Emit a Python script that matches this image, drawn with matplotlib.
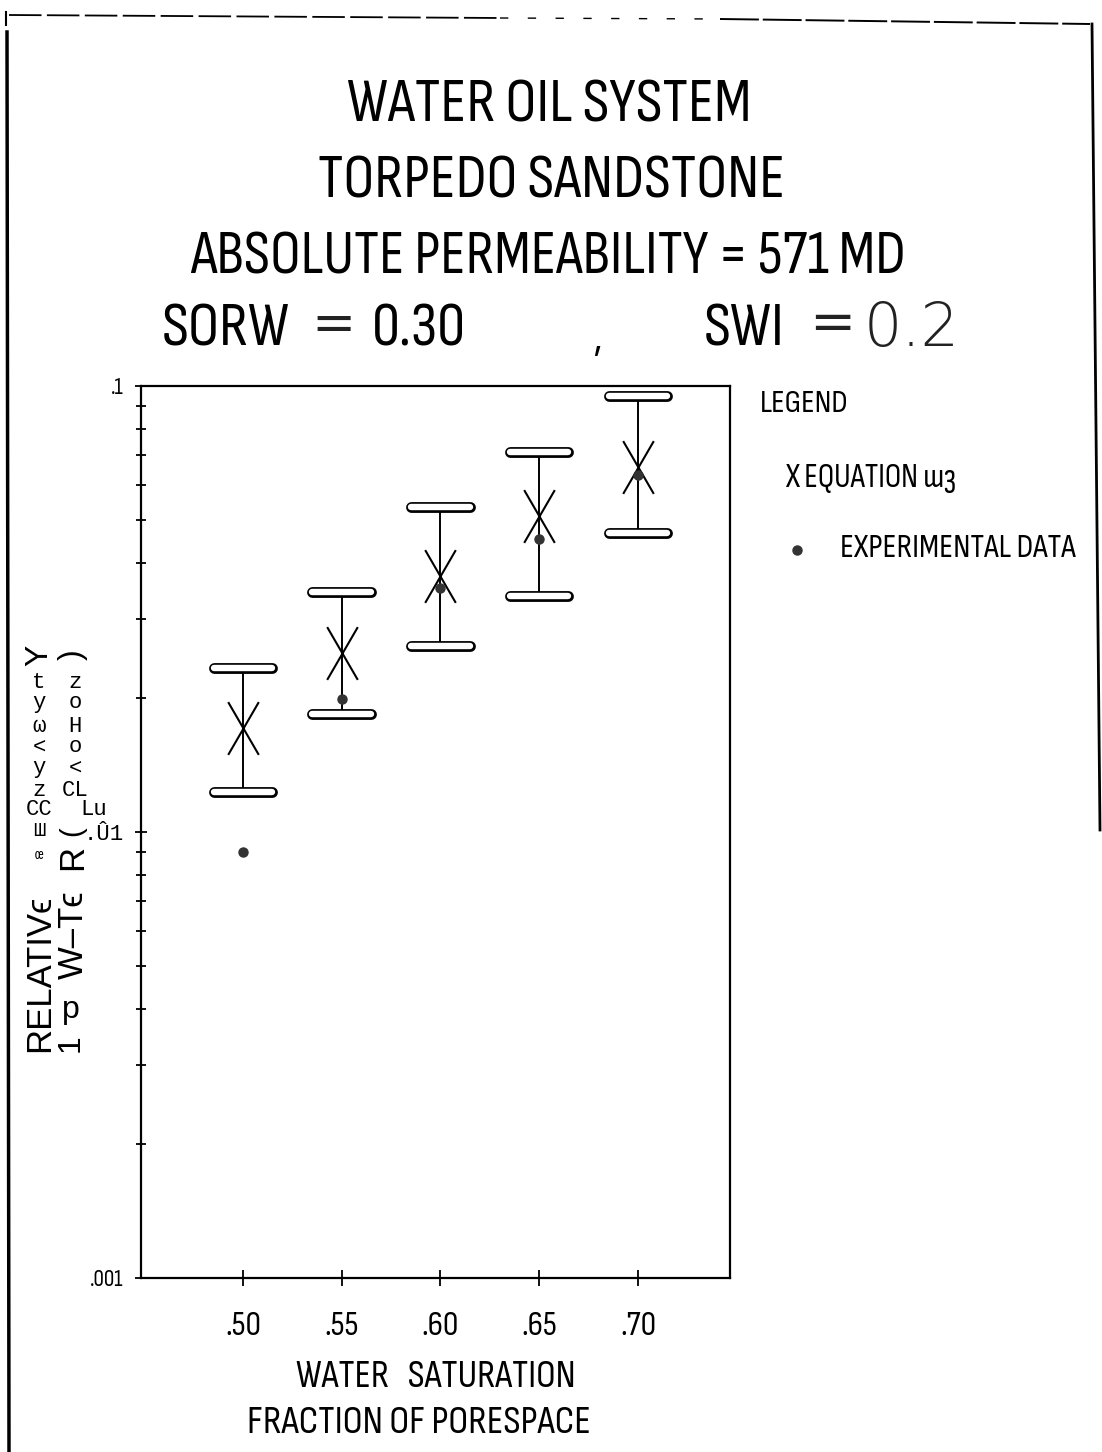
import matplotlib
matplotlib.use("Agg")
import matplotlib.pyplot as plt
from matplotlib.path import Path
from matplotlib.lines import Line2D
from matplotlib import font_manager, ticker

# ---------------- data ----------------
water_saturation = [0.50, 0.55, 0.60, 0.65, 0.70]
equation_krw = [0.0171, 0.0252, 0.0375, 0.0511, 0.0658]
experimental_krw = [0.00902, 0.0199, 0.0352, 0.0454, 0.0631]
upper_bound = [0.0233, 0.0345, 0.0535, 0.0711, 0.0950]
lower_bound = [0.0123, 0.0184, 0.0261, 0.0338, 0.0468]
x_tick_values = [0.50, 0.55, 0.60, 0.65, 0.70]
x_tick_labels = [".50", ".55", ".60", ".65", ".70"]
y_tick_values = [0.001, 0.01, 0.1]
y_tick_labels = [".001", ".\u00db1", ".1"]

title_lines = ["WATER OIL SYSTEM", "TORPEDO SANDSTONE", "ABSOLUTE PERMEABILITY = 571 MD"]

# ---------------- fonts ----------------
avail = {f.name for f in font_manager.fontManager.ttflist}
narrow = "Liberation Sans"
for cand in ["Liberation Sans Narrow", "Arial Narrow", "Sofia Sans Condensed",
             "Roboto Condensed", "PT Sans Narrow", "Archivo Narrow"]:
    if cand in avail:
        narrow = cand
        break
SANS = [narrow, "DejaVu Sans"]
PLAIN = ["Liberation Sans", "DejaVu Sans"]
MONO = ["Liberation Mono", "DejaVu Sans Mono"]
THIN = ["DejaVu Sans"]
plt.rcParams['font.family'] = SANS

W, H = 1102, 1452
fig = plt.figure(figsize=(W / 100, H / 100), dpi=100)
fig.patch.set_facecolor("white")
renderer = fig.canvas.get_renderer()


def fx(x):
    return x / W


def fy(y):
    return 1 - y / H


def fit_text(s, x0, x1, baseline, family=None, **kw):
    fam = family if family is not None else SANS
    t = fig.text(fx(x0), fy(baseline), s, fontsize=30, family=fam,
                 ha="left", va="baseline", **kw)
    w = t.get_window_extent(renderer).width
    size = 30 * (x1 - x0) / w
    t.set_fontsize(size)
    return size


def put_text(s, x0, baseline, size, family=None, **kw):
    fam = family if family is not None else SANS
    fig.text(fx(x0), fy(baseline), s, fontsize=size, family=fam,
             ha="left", va="baseline", **kw)


# axes placement
L, R, T, B = 141, 730, 386, 1278
ax = fig.add_axes([fx(L), fy(B), (R - L) / W, (B - T) / H])
ax.set_yscale("log")
ax.set_xlim(0.4484, 0.7466)
ax.set_ylim(0.001, 0.1)

# error bars: vertical line
for x, lo, hi in zip(water_saturation, lower_bound, upper_bound):
    ax.plot([x, x], [lo, hi], color="black", lw=1.4, zorder=2)
# caps drawn as capsule outlines
cap_half = 0.0148
for x, lo, hi in zip(water_saturation, lower_bound, upper_bound):
    for yv in (lo, hi):
        ax.plot([x - cap_half, x + cap_half], [yv, yv], color="black", lw=7.8,
                solid_capstyle="round", zorder=3)
        ax.plot([x - cap_half, x + cap_half], [yv, yv], color="white", lw=4.6,
                solid_capstyle="round", zorder=4)

# tall X marker
xpath = Path([(-0.58, -1), (0.58, 1), (-0.58, 1), (0.58, -1)],
             [Path.MOVETO, Path.LINETO, Path.MOVETO, Path.LINETO])
ax.plot(water_saturation, equation_krw, linestyle="none", marker=xpath,
        markersize=38, markeredgewidth=1.5, markeredgecolor="black",
        markerfacecolor="none", zorder=5)
ax.plot(water_saturation, experimental_krw, linestyle="none", marker="o",
        markersize=6.5, color="#333333", zorder=6)

# ticks
ax.set_xticks(x_tick_values)
ax.set_xticklabels(x_tick_labels)
ax.set_yticks(y_tick_values)
ax.set_yticklabels(y_tick_labels)
ax.tick_params(axis="x", direction="inout", length=11, width=1.3, pad=19,
               labelsize=25)
ax.tick_params(axis="y", which="major", direction="inout", length=9, width=1.3,
               labelsize=17, pad=8)
ax.tick_params(axis="y", which="minor", direction="inout", length=7.5, width=1.3)
ax.yaxis.set_minor_formatter(ticker.NullFormatter())
for lab in ax.get_yticklabels():
    if lab.get_text() == ".\u00db1":
        lab.set_fontfamily(MONO)
        lab.set_fontsize(16)
for sp in ax.spines.values():
    sp.set_linewidth(1.6)

# x label
fit_text("WATER   SATURATION", 296, 576, 1387)
fit_text("FRACTION OF PORESPACE", 247, 592, 1433)

# titles
fit_text(title_lines[0], 347, 752, 122)
fit_text(title_lines[1], 318, 785, 198)
fit_text(title_lines[2], 190, 908, 273)
s4 = fit_text("SORW", 161, 289, 346)
put_text("0.30", 372, 346, s4)
put_text("SWI", 703, 346, s4)
fit_text("=", 311, 355, 340, family=THIN, color="#222222")
fit_text(",", 593, 601, 350)
fit_text("=", 809, 855, 340, family=THIN, color="#222222")
fit_text("0.2", 864, 960, 346, family=THIN, color="#222222", fontweight="light")

# legend
fit_text("LEGEND", 760, 849, 412)
fit_text("X EQUATION \u0448\u0437", 785, 957, 487)
fit_text("EXPERIMENTAL DATA", 840, 1076, 557)
fig.add_artist(Line2D([fx(797)], [fy(550)], marker="o", markersize=6.5,
                      color="#333333", linestyle="none"))

# garbled y label (as in scan)
fig.text(fx(40), fy(973), "RELATIV\u03f5", rotation=90, ha="center", va="center",
         fontsize=25, family=PLAIN)
col1 = [("\u0153", 855, 10), ("\u0428", 831, 15), ("CC", 809, 16), ("z", 790, 16),
        ("y", 768, 16), ("<", 747, 16), ("\u03c9", 727, 16), ("y", 702, 16),
        ("t", 682, 16)]
for s, y, fs in col1:
    fig.text(fx(39), fy(y), s, ha="center", va="center", fontsize=fs, family=MONO)
fig.text(fx(39), fy(655), "Y", rotation=90, ha="center", va="center", fontsize=23,
         family=PLAIN)
fig.text(fx(73), fy(655), ")", rotation=90, ha="center", va="center", fontsize=23,
         family=PLAIN)
col2 = [("z", 682, 16), ("o", 703, 16), ("H", 727, 16), ("o", 747, 16),
        ("<", 768, 16), ("CL", 790, 16)]
for s, y, fs in col2:
    fig.text(fx(75), fy(y), s, ha="center", va="center", fontsize=fs, family=MONO)
fig.text(fx(94), fy(809), "Lu", ha="center", va="center", fontsize=16, family=MONO)
fig.text(fx(72), fy(831), "(", rotation=90, ha="center", va="center", fontsize=21,
         family=PLAIN)
fig.text(fx(73), fy(857), "R", rotation=90, ha="center", va="center", fontsize=25,
         family=PLAIN)
fig.text(fx(73), fy(935), "W\u2013T\u03f5", rotation=90, ha="center", va="center",
         fontsize=25, family=PLAIN)
fig.text(fx(71), fy(1010), "p", ha="center", va="center", fontsize=23, family=PLAIN)
fig.text(fx(71), fy(1043), "1", rotation=90, ha="center", va="center", fontsize=23,
         family=PLAIN)

# scan border
fig.add_artist(Line2D([fx(6), fx(6)], [fy(12), fy(25)], color="black", lw=1.5))
fig.add_artist(Line2D([fx(7), fx(9)], [fy(32), fy(1452)], color="black", lw=2.5))
fig.add_artist(Line2D([fx(9), fx(500)], [fy(15), fy(18)], color="black", lw=1.3,
                      linestyle=(0, (18, 3))))
fig.add_artist(Line2D([fx(500), fx(720)], [fy(18), fy(19)], color="black", lw=1.0,
                      linestyle=(0, (6, 14))))
fig.add_artist(Line2D([fx(720), fx(1090)], [fy(19), fy(24)], color="black", lw=1.4,
                      linestyle=(0, (20, 2))))
fig.add_artist(Line2D([fx(1092), fx(1100)], [fy(24), fy(830)], color="black", lw=2))

fig.savefig("out.png", dpi=100, facecolor="white")
